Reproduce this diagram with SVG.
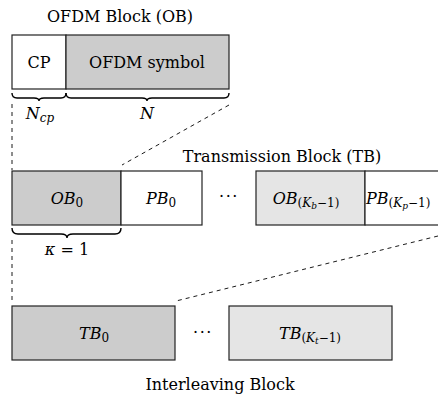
<svg xmlns="http://www.w3.org/2000/svg" width="438" height="396" viewBox="0 0 438 396">
<style>
text{font-family:"DejaVu Serif","Liberation Serif",serif;font-size:16px;fill:#000}
.m{font-style:italic}
.blk{stroke:#222;stroke-width:1.2}
.dark{fill:#cccccc}
.light{fill:#e5e5e5}
.white{fill:#fff}
.dash{stroke:#000;stroke-width:0.9;stroke-dasharray:4 4;fill:none}
.brace{stroke:#000;stroke-width:1.4;fill:none}
.s{font-size:12px}
.ss{font-size:9px}
.dots{letter-spacing:1.5px}
</style>
<rect width="438" height="396" fill="#fff"/>
<g id="connectors">
<line class="dash" x1="12" y1="104" x2="12" y2="170"/>
<line class="dash" x1="229" y1="105" x2="122" y2="165"/>
<line class="dash" x1="12" y1="240" x2="12" y2="304"/>
<line class="dash" x1="438" y1="236" x2="176" y2="301"/>
<path class="brace" d="M12,93 Q12,98 17,98 L34,98 Q39,98 39,101 Q39,98 44,98 L61,98 Q66,98 66,93"/>
<path class="brace" d="M66,93 Q66,98 71,98 L142,98 Q147,98 147,101 Q147,98 152,98 L224,98 Q229,98 229,93"/>
<path class="brace" d="M12,228 Q12,234 18,234 L61,234 Q67,234 67,238 Q67,234 73,234 L115,234 Q121,234 121,228"/>
</g>
<g id="ob-title"><text x="120" y="22" text-anchor="middle">OFDM Block (OB)</text></g>
<g id="cp"><rect class="blk white" x="12" y="35" width="54" height="54"/><text x="39" y="68" text-anchor="middle">CP</text></g>
<g id="ofdm-symbol"><rect class="blk dark" x="66" y="35" width="163" height="54"/><text x="147" y="68" text-anchor="middle">OFDM symbol</text></g>
<g id="ncp-label"><text x="40" y="119" text-anchor="middle"><tspan class="m">N</tspan><tspan class="m s" dy="3">cp</tspan></text></g>
<g id="n-label"><text x="147" y="119" text-anchor="middle" class="m">N</text></g>
<g id="tb-title"><text x="282" y="162" text-anchor="middle">Transmission Block (TB)</text></g>
<g id="ob0"><rect class="blk dark" x="12" y="171" width="109" height="54"/><text x="67" y="204" text-anchor="middle"><tspan class="m">OB</tspan><tspan class="s" dy="3">0</tspan></text></g>
<g id="pb0"><rect class="blk white" x="121" y="171" width="81" height="54"/><text x="161" y="204" text-anchor="middle"><tspan class="m">PB</tspan><tspan class="s" dy="3">0</tspan></text></g>
<g id="dots1"><text class="dots" x="229" y="202" text-anchor="middle">···</text></g>
<g id="obkb"><rect class="blk light" x="256" y="171" width="109" height="54"/><text x="306" y="204" text-anchor="middle"><tspan class="m">OB</tspan><tspan class="s" dy="3">(</tspan><tspan class="m s">K</tspan><tspan class="m ss" dy="2">b</tspan><tspan class="s" dy="-2">−1)</tspan></text></g>
<g id="pbkp"><rect class="blk white" x="365" y="171" width="80" height="54"/><text x="366" y="204"><tspan class="m">PB</tspan><tspan class="s" dy="3">(</tspan><tspan class="m s">K</tspan><tspan class="m ss" dy="2">p</tspan><tspan class="s" dy="-2">−1)</tspan></text></g>
<g id="kappa"><text x="67" y="255" text-anchor="middle"><tspan class="m">κ</tspan> = 1</text></g>
<g id="tb0"><rect class="blk dark" x="12" y="306" width="163" height="54"/><text x="94" y="339" text-anchor="middle"><tspan class="m">TB</tspan><tspan class="s" dy="3">0</tspan></text></g>
<g id="dots2"><text class="dots" x="203" y="338" text-anchor="middle">···</text></g>
<g id="tbkt"><rect class="blk light" x="229" y="306" width="163" height="54"/><text x="310" y="339" text-anchor="middle"><tspan class="m">TB</tspan><tspan class="s" dy="3">(</tspan><tspan class="m s">K</tspan><tspan class="m ss" dy="2">t</tspan><tspan class="s" dy="-2">−1)</tspan></text></g>
<g id="il-title"><text x="220" y="390" text-anchor="middle">Interleaving Block</text></g>
</svg>
